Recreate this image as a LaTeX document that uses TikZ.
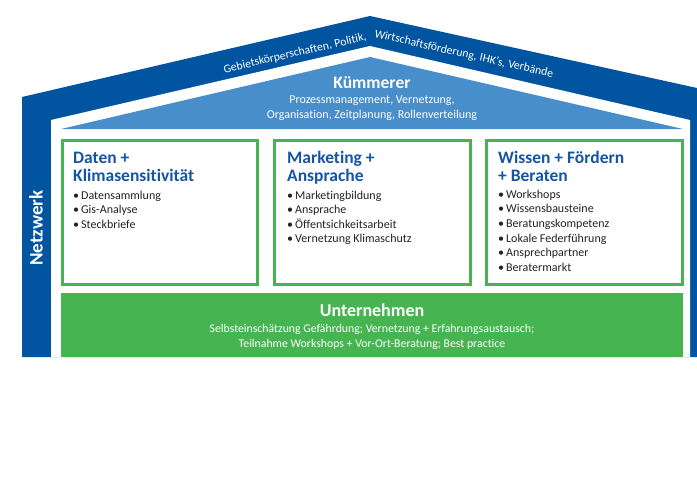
\documentclass[tikz,border=0pt]{standalone}
\usepackage{fontspec}
\setmainfont{Carlito}[Ligatures={NoCommon,NoContextual}]
\usetikzlibrary{calc}
\definecolor{dblue}{RGB}{0,84,160}
\definecolor{lblue}{RGB}{72,142,202}
\definecolor{hblue}{RGB}{22,84,164}
\definecolor{grn}{RGB}{70,180,80}
\definecolor{ink}{RGB}{35,35,35}
\tikzset{
  head/.style={anchor=base west,inner sep=0pt,text=hblue,font=\bfseries\fontsize{17.5}{18}\selectfont},
  item/.style={anchor=base west,inner sep=0pt,text=ink,font=\fontsize{12}{14}\selectfont},
  pillar/.style={draw=grn,line width=3pt,fill=white},
  wtext/.style={inner sep=0pt,text=white},
  rooftext/.style={wtext,font=\fontsize{11.7}{13}\selectfont},
  roofL/.style={rooftext,anchor=base east,rotate=13.1},
  roofR/.style={rooftext,anchor=base west,rotate=-12.8},
}
\begin{document}
\begin{tikzpicture}[x=1pt,y=-1pt]
\useasboundingbox (0,0) rectangle (697,485);
% outer roof and walls
\fill[dblue] (22,357) -- (22,97) -- (370,16) -- (697,88) -- (697,357) -- cycle;
\fill[white] (51,357) -- (51,120) -- (370,46) -- (690,120) -- (690,357) -- cycle;
% Kuemmerer triangle
\fill[lblue] (61,129) -- (370,57) -- (683,129) -- cycle;
% roof text, word by word along the slopes
\node[roofL] (rl2) at (367,40) {Politik,};
\node[roofL] (rl1) at ($(rl2.base west)+(193.1:2.7pt)$) {Gebietskörperschaften,};
\node[roofR] (rr1) at (374,37) {Wirtschaftsförderung,};
\node[roofR] (rr2) at ($(rr1.base east)+(-12.8:2.7pt)$) {IHK's,};
\node[roofR] (rr3) at ($(rr2.base east)+(-12.8:2.7pt)$) {Verbände};
% Kuemmerer
\node[wtext,anchor=base,font=\bfseries\fontsize{17.5}{18}\selectfont] (kue) at (372,88) {Kümmerer};
\node[wtext,anchor=base,font=\fontsize{12}{14}\selectfont] (kue1) at (372,103) {Prozessmanagement, Vernetzung,};
\node[wtext,anchor=base,font=\fontsize{12}{14}\selectfont] (kue2) at (372,118) {Organisation, Zeitplanung, Rollenverteilung};
% Netzwerk
\node[wtext,rotate=90,font=\bfseries\fontsize{19}{20}\selectfont] (netz) at (36,228) {Netzwerk};
% pillars
\draw[pillar] (62,140) rectangle (257,284);
\draw[pillar] (274,140) rectangle (470,284);
\draw[pillar] (486,140) rectangle (682,284);
\node[head] (h1a) at (73,163) {Daten +};
\node[head] (h1b) at (73,181) {Klimasensitivität};
\foreach \t [count=\i] in {Datensammlung,Gis-Analyse,Steckbriefe}
  \node[item] (a\i) at (73,{199+14.6*(\i-1)}) {\textbullet\,\t};
\node[head] (h2a) at (287,163) {Marketing +};
\node[head] (h2b) at (287,181) {Ansprache};
\foreach \t [count=\i] in {Marketingbildung,Ansprache,Öffentsichkeitsarbeit,Vernetzung Klimaschutz}
  \node[item] (b\i) at (287,{199+14.6*(\i-1)}) {\textbullet\,\t};
\node[head] (h3a) at (498,163) {Wissen + Fördern};
\node[head] (h3b) at (498,181) {+ Beraten};
\foreach \t [count=\i] in {Workshops,Wissensbausteine,Beratungskompetenz,Lokale Federführung,Ansprechpartner,Beratermarkt}
  \node[item] (c\i) at (498,{198+14.7*(\i-1)}) {\textbullet\,\t};
% Unternehmen
\fill[grn] (61,293) rectangle (683,357);
\node[wtext,anchor=base,font=\bfseries\fontsize{18}{20}\selectfont] (unt) at (372,316) {Unternehmen};
\node[wtext,anchor=base,font=\fontsize{11.8}{13}\selectfont] (unt1) at (372,332) {Selbsteinschätzung Gefährdung; Vernetzung + Erfahrungsaustausch;};
\node[wtext,anchor=base,font=\fontsize{11.8}{13}\selectfont] (unt2) at (372,347) {Teilnahme Workshops + Vor-Ort-Beratung; Best practice};
\end{tikzpicture}
\end{document}
